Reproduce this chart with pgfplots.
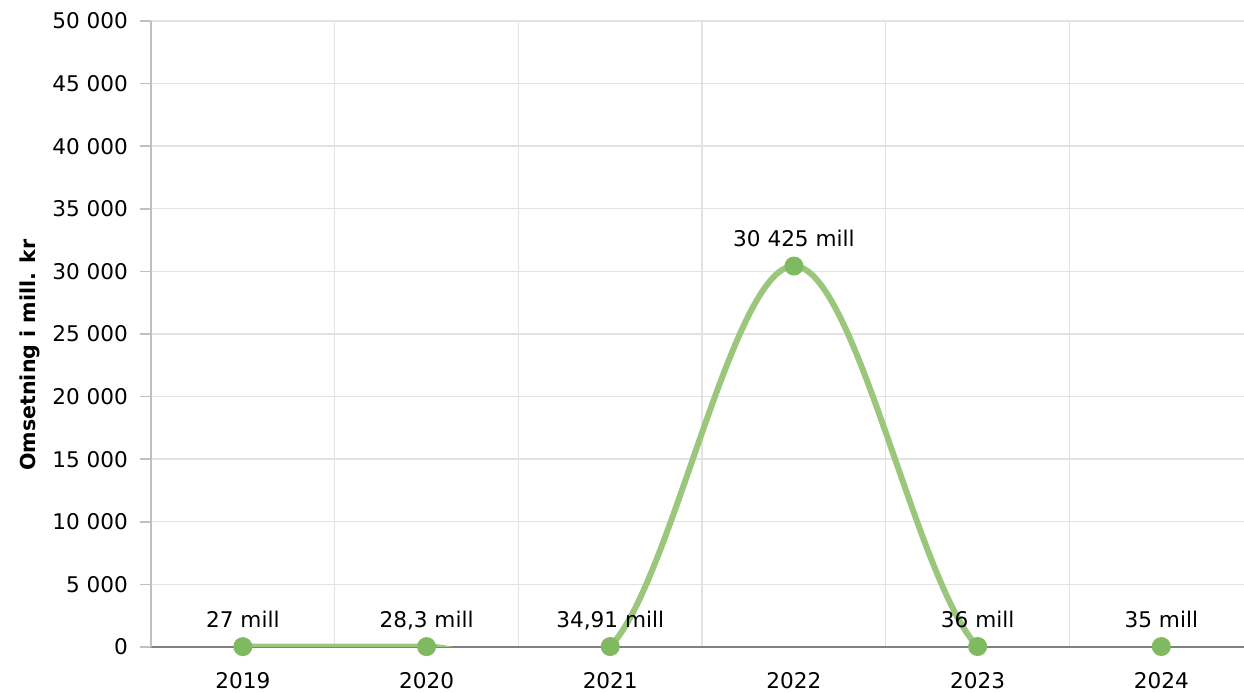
\documentclass[border=0pt]{standalone}
\usepackage{fontspec}
\setmainfont{DejaVu Sans}
\usepackage{pgfplots}
\usepackage{pgfplotstable}
\pgfplotsset{compat=1.18}
\usetikzlibrary{calc}
\definecolor{linegreen}{RGB}{155,199,125}
\definecolor{markgreen}{RGB}{128,186,96}
\definecolor{gridgray}{RGB}{226,226,226}
\definecolor{yaxisgray}{RGB}{192,192,192}
\definecolor{xaxisgray}{RGB}{128,128,128}
\pgfplotstableread[col sep=semicolon]{
x;y;lab
0;27;27 mill
1;28.3;28,3 mill
2;34.91;34,91 mill
3;30425;30 425 mill
4;36;36 mill
5;35;35 mill
}\data
\begin{document}
\begin{tikzpicture}
\begin{axis}[
  scale only axis, width=546.5pt, height=313pt,
  xmin=-0.5, xmax=5.45, ymin=0, ymax=50000,
  xtick={0,...,5}, xticklabels={2019,2020,2021,2022,2023,2024},
  minor xtick={0.5,1.5,2.5,3.5,4.5},
  xminorgrids, ymajorgrids,
  ytick={0,5000,...,50000},
  scaled y ticks=false,
  axis x line*=bottom, axis y line*=left,
  x axis line style={-, draw=xaxisgray, line width=1pt},
  y axis line style={-, draw=yaxisgray, line width=1pt},
  tick align=outside, major tick length=5.5pt,
  xtick style={draw=none}, minor x tick style={draw=none},
  ytick style={draw=yaxisgray, line width=0.8pt},
  grid style={gridgray, line width=0.7pt},
  minor grid style={gridgray, line width=0.7pt},
  /pgf/number format/.cd, 1000 sep={\ }, assume math mode=true, /pgfplots/.cd,
  tick label style={font=\fontsize{10.8}{12}\selectfont, text=black},
  yticklabel style={xshift=-2.5pt},
  xticklabel style={yshift=-3.5pt},
  ylabel={\textbf{Omsetning i mill. kr}},
  every axis y label/.style={at={(rel axis cs:0,0.5)}, xshift=-60.5pt, yshift=-10.5pt, rotate=90, anchor=center, font=\fontsize{10.3}{12}\selectfont},
  clip=true,
]
\addplot[smooth, tension=0.6, color=linegreen, line width=3pt,
  mark=*, mark size=4.5pt, mark options={solid, draw=markgreen, fill=markgreen, line width=0.5pt},
  point meta=explicit symbolic,
  nodes near coords,
  every node near coord/.append style={anchor=base, yshift=9.7pt, font=\fontsize{10.8}{12}\selectfont, text=black}
] table[x=x, y=y, meta=lab] {\data};
\coordinate (sw) at (rel axis cs:0,0);
\coordinate (ne) at (rel axis cs:1,1);
\end{axis}
\pgfresetboundingbox
\path ($(sw)+(-75.5pt,-23pt)$) rectangle ($(ne)+(0,10.5pt)$);
\end{tikzpicture}
\end{document}
